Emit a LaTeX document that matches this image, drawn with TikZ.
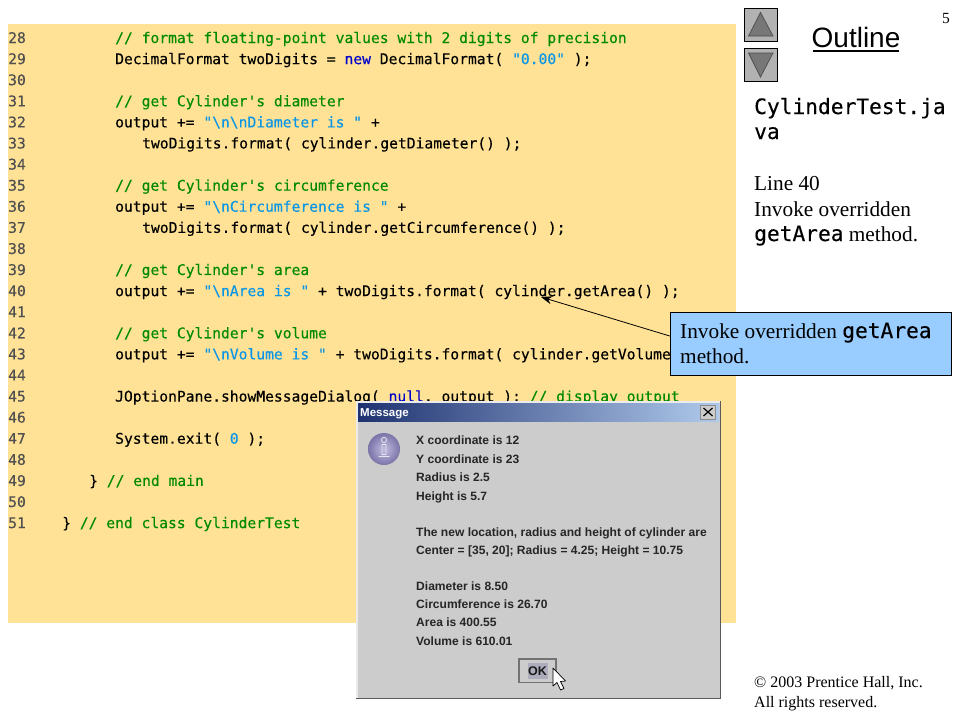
\documentclass[tikz,border=0pt]{standalone}
\usepackage{fontspec}
\setmainfont{Liberation Serif}
\setsansfont{Liberation Sans}
\setmonofont[FakeBold=0.25]{DejaVu Sans Mono}
\usetikzlibrary{calc,arrows.meta}
\definecolor{paneyellow}{HTML}{FFE295}
\definecolor{cmtgreen}{HTML}{008A00}
\definecolor{kwblue}{HTML}{0000CC}
\definecolor{strblue}{HTML}{0A96E6}
\definecolor{numgray}{HTML}{505050}
\definecolor{callblue}{HTML}{99CCFF}
\definecolor{dlggray}{HTML}{CCCCCC}
\definecolor{btngray}{HTML}{B2B2B2}
\definecolor{tridark}{HTML}{777777}
\definecolor{titleL}{HTML}{1F3270}
\definecolor{titleM}{HTML}{6283BA}
\definecolor{titleR}{HTML}{B0CAEC}
\definecolor{iconIn}{HTML}{C2BDE0}
\definecolor{iconOut}{HTML}{7A74A8}
\newcommand\cmt[1]{\textcolor{cmtgreen}{#1}}
\newcommand\kw[1]{\textcolor{kwblue}{#1}}
\newcommand\str[1]{\textcolor{strblue}{#1}}
\newcommand\bs{\textbackslash}
\newcommand\codeln[3]{%
  \node[numtxt] (n#1) at (8,{43+(#1-28)*21.09}) {#1};
  \ifx&#3&\else\node[codetxt] (c#1) at (#2,{43+(#1-28)*21.09}) {#3};\fi}
\newcommand\dlgln[3]{\node[dlgtxt] (#1) at (416,#2) {#3};}
\tikzset{
  numtxt/.style={anchor=base west,inner sep=0,text=numgray,font=\ttfamily\fontsize{14.65}{17}\selectfont},
  codetxt/.style={anchor=base west,inner sep=0,text=black,font=\ttfamily\fontsize{14.65}{17}\selectfont},
  dlgtxt/.style={anchor=base west,inner sep=0,text=black!85,font=\sffamily\bfseries\fontsize{12.05}{14}\selectfont},
  sidetxt/.style={anchor=base west,inner sep=0,text=black,font=\rmfamily\fontsize{21.3}{24}\selectfont},
  sidemono/.style={anchor=base west,inner sep=0,text=black,font=\ttfamily\fontsize{21.2}{24}\selectfont},
  legal/.style={anchor=base west,inner sep=0,text=black,font=\rmfamily\fontsize{16}{18}\selectfont},
  navbtn/.style={draw=black,fill=btngray,line width=0.9pt,minimum width=33pt,minimum height=33pt,inner sep=0},
  navtri/.style={draw=black!70,fill=tridark,line width=0.7pt},
}
\newcommand\mono[1]{{\ttfamily\fontsize{21.2}{24}\selectfont #1}}
\begin{document}
\begin{tikzpicture}[x=1pt,y=-1pt]
\useasboundingbox (0,0) rectangle (960,720);
\fill[white] (0,0) rectangle (960,720);
\fill[paneyellow] (8,24) rectangle (736,623);
\codeln{28}{115}{\cmt{// format floating-point values with 2 digits of precision}}
\codeln{29}{115}{DecimalFormat twoDigits = \kw{new} DecimalFormat( \str{"0.00"} );}
\codeln{30}{115}{}
\codeln{31}{115}{\cmt{// get Cylinder's diameter}}
\codeln{32}{115}{output += \str{"\bs n\bs nDiameter is "} +}
\codeln{33}{142}{twoDigits.format( cylinder.getDiameter() );}
\codeln{34}{115}{}
\codeln{35}{115}{\cmt{// get Cylinder's circumference}}
\codeln{36}{115}{output += \str{"\bs nCircumference is "} +}
\codeln{37}{142}{twoDigits.format( cylinder.getCircumference() );}
\codeln{38}{115}{}
\codeln{39}{115}{\cmt{// get Cylinder's area}}
\codeln{40}{115}{output += \str{"\bs nArea is "} + twoDigits.format( cylinder.getArea() );}
\codeln{41}{115}{}
\codeln{42}{115}{\cmt{// get Cylinder's volume}}
\codeln{43}{115}{output += \str{"\bs nVolume is "} + twoDigits.format( cylinder.getVolume() );}
\codeln{44}{115}{}
\codeln{45}{115}{JOptionPane.showMessageDialog( \kw{null}, output ); \cmt{// display output}}
\codeln{46}{115}{}
\codeln{47}{115}{System.exit( \str{0} );}
\codeln{48}{115}{}
\codeln{49}{89}{\} \cmt{// end main}}
\codeln{50}{115}{}
\codeln{51}{62}{\} \cmt{// end class CylinderTest}}
% callout
\node[draw=black,fill=callblue,line width=0.9pt,minimum width=280.5pt,minimum height=62.5pt,inner sep=0,anchor=north west] (callout) at (670,312) {};
\node[sidetxt] (calloutA) at (680,338) {Invoke overridden \mono{getArea}};
\node[sidetxt] (calloutB) at (680,363) {method.};
\coordinate (calltip) at (541,297);
\draw[line width=0.8pt,-{Stealth[length=11pt,width=8pt]}] ($(callout.north west)!0.38!(callout.south west)$) -- (calltip);
% dialog window
\fill[black!65] (356,401) rectangle (721,699);
\fill[white!92!black] (356,401) rectangle (719.5,697.5);
\fill[dlggray] (358,403) rectangle (719.5,697.5);
\shade[left color=titleL,middle color=titleM,right color=titleR] (358,403) rectangle (719,421);
\node[anchor=base west,inner sep=0,text=white,font=\sffamily\bfseries\fontsize{11.5}{13}\selectfont] (dlgtitle) at (360,416) {Message};
\node[draw=black!45,fill=dlggray,line width=0.7pt,minimum width=15pt,minimum height=14pt,inner sep=0] (dlgclose) at (708,412) {};
\draw[line width=1.2pt] (703.5,408) -- (712.5,416) (712.5,408) -- (703.5,416);
% icon
\shade[inner color=iconIn,outer color=iconOut] (384,449) circle (16);
\draw[white!80!iconOut,line width=0.8pt] (384,440) circle (2.6) (382,444.5) rectangle (386,454.5) (378.5,456.5) -- (389.5,456.5);
% dialog text
\dlgln{d1}{444}{X coordinate is 12}
\dlgln{d2}{463}{Y coordinate is 23}
\dlgln{d3}{481}{Radius is 2.5}
\dlgln{d4}{500}{Height is 5.7}
\dlgln{d5}{536}{The new location, radius and height of cylinder are}
\dlgln{d6}{554}{Center = [35, 20]; Radius = 4.25; Height = 10.75}
\dlgln{d7}{590}{Diameter is 8.50}
\dlgln{d8}{608}{Circumference is 26.70}
\dlgln{d9}{626}{Area is 400.55}
\dlgln{d10}{645}{Volume is 610.01}
% OK button
\node[draw=black!55,fill=dlggray,line width=1.5pt,minimum width=37pt,minimum height=23.5pt,inner sep=0] (okbtn) at (537.5,670.5) {};
\fill[blue!40!black!15!dlggray] (528,663) rectangle (547.5,679);
\node[anchor=base,inner sep=0,text=black!90,font=\sffamily\bfseries\fontsize{12.5}{14}\selectfont] (oktxt) at (537.5,675) {OK};
\draw[black,fill=white,line width=0.7pt,line join=round] (553,668) -- (553,686) -- (557,682.5) -- (560.5,690) -- (564,688.5) -- (560.5,681.5) -- (565.5,681) -- cycle;
% sidebar
\node[navbtn] (upbtn) at (760.5,24.5) {};
\node[navbtn] (downbtn) at (760.5,64.5) {};
\draw[navtri] (760.5,12.5) -- (748.5,36) -- (773,36) -- cycle;
\draw[navtri] (760.5,77) -- (748.5,53) -- (773,53) -- cycle;
\node[anchor=base,inner sep=0,text=black,font=\sffamily\fontsize{28}{32}\selectfont] (outline) at (856,47.5) {Outline};
\draw[line width=1.1pt] (813,51) -- (899,51);
\node[anchor=base east,inner sep=0,font=\rmfamily\fontsize{15.5}{18}\selectfont] (pagenum) at (950,23) {5};
\node[sidemono] (fileA) at (754,114) {CylinderTest.ja};
\node[sidemono] (fileB) at (754,139) {va};
\node[sidetxt] (noteA) at (754,190) {Line 40};
\node[sidetxt] (noteB) at (754,216) {Invoke overridden};
\node[sidetxt] (noteC) at (754,241) {\mono{getArea} method.};
\node[legal] (legalA) at (754,687) {\textcopyright\ 2003 Prentice Hall, Inc.};
\node[legal] (legalB) at (754,707) {All rights reserved.};
\end{tikzpicture}
\end{document}
